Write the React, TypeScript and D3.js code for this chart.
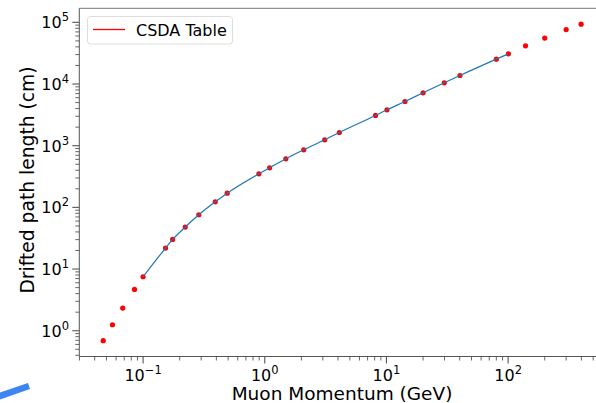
import React from "react";
import * as d3 from "d3";

// CSDA table values
const momentum = [
  0.047, 0.056, 0.068, 0.085, 0.1, 0.153, 0.175, 0.222, 0.287, 0.392, 0.491,
  0.895, 1.096, 1.49, 2.09, 3.11, 4.1, 8.13, 10.1, 14.2, 20.0, 29.9, 40.2, 80,
  100.5, 139, 200, 300, 398,
];
const pathLength = [
  0.69, 1.25, 2.33, 4.67, 7.5, 21.9, 30.2, 48, 75.9, 123, 170, 350, 438, 613,
  858, 1246, 1637, 3090, 3819, 5207, 7200, 10450, 13740, 25300, 30850, 41600,
  55500, 76400, 93500,
];
// fitted curve covers 0.1 .. 100 GeV
const curveRange = [0.1, 101];

const xMajor = [-1, 0, 1, 2];
const yMajor = [0, 1, 2, 3, 4, 5];

const W = 596;
const H = 403;
const FONT = "DejaVu Sans";

function logPad(vals: number[], frac: number): [number, number] {
  const lo = Math.log10(d3.min(vals)!);
  const hi = Math.log10(d3.max(vals)!);
  const m = (hi - lo) * frac;
  return [Math.pow(10, lo - m), Math.pow(10, hi + m)];
}

function minorTicks(domain: [number, number]) {
  const out: number[] = [];
  for (let e = -3; e <= 6; e++) {
    for (let k = 2; k <= 9; k++) {
      const v = k * Math.pow(10, e);
      if (v >= domain[0] && v <= domain[1]) out.push(v);
    }
  }
  return out;
}

function Pow({ e, x, y, anchor }: { e: number; x: number; y: number; anchor: string }) {
  const exp = e < 0 ? "\u2212" + Math.abs(e) : String(e);
  return (
    <text x={x} y={y} textAnchor={anchor} fontFamily={FONT} fontSize={16} fill="#000">
      10
      <tspan fontSize={11.5} dy={-7}>
        {exp}
      </tspan>
    </text>
  );
}

export default function App() {
  const left = 79.3;
  const right = 605;
  const top = 8.3;
  const bottom = 356.5;

  const xDom = logPad(momentum, 0.05);
  const yDom = logPad(pathLength, 0.05);
  const x = d3.scaleLog().domain(xDom).range([left, right]);
  const y = d3.scaleLog().domain(yDom).range([bottom, top]);

  const pts = momentum.map((p, i) => ({ p, l: pathLength[i] }));
  const curvePts = pts.filter((d) => d.p >= curveRange[0] && d.p <= curveRange[1]);

  const line = d3
    .line<{ p: number; l: number }>()
    .x((d) => x(d.p))
    .y((d) => y(d.l))
    .curve(d3.curveMonotoneX);

  const axisCol = "#555";

  return (
    <div style={{ position: "fixed", left: 0, top: 0 }}>
      <svg width={W} height={H} style={{ display: "block", background: "#fff" }}>
        {/* stray blue stroke at bottom-left */}
        <line x1={-3} y1={397} x2={29} y2={386} stroke="#3d85f0" strokeWidth={6.5} />

        {/* spines */}
        <line x1={left} y1={top} x2={W} y2={top} stroke="#777" strokeWidth={1} />
        <line x1={left} y1={top} x2={left} y2={bottom} stroke={axisCol} strokeWidth={1} />
        <line x1={left} y1={bottom} x2={W} y2={bottom} stroke={axisCol} strokeWidth={1} />

        {/* x ticks */}
        {minorTicks(xDom).map((v) => (
          <line key={"xm" + v} x1={x(v)} x2={x(v)} y1={bottom} y2={bottom + 4} stroke={axisCol} strokeWidth={0.9} />
        ))}
        {xMajor.map((e) => (
          <g key={"xM" + e}>
            <line x1={x(Math.pow(10, e))} x2={x(Math.pow(10, e))} y1={bottom} y2={bottom + 7} stroke={axisCol} strokeWidth={1.1} />
            <Pow e={e} x={x(Math.pow(10, e))} y={381} anchor="middle" />
          </g>
        ))}

        {/* y ticks */}
        {minorTicks(yDom).map((v) => (
          <line key={"ym" + v} x1={left - 4} x2={left} y1={y(v)} y2={y(v)} stroke={axisCol} strokeWidth={0.9} />
        ))}
        {yMajor.map((e) => (
          <g key={"yM" + e}>
            <line x1={left - 7} x2={left} y1={y(Math.pow(10, e))} y2={y(Math.pow(10, e))} stroke={axisCol} strokeWidth={1.1} />
            <Pow e={e} x={69} y={y(Math.pow(10, e)) + 6} anchor="end" />
          </g>
        ))}

        {/* data */}
        {pts.map((d, i) => (
          <circle key={i} cx={x(d.p)} cy={y(d.l)} r={2.6} fill="#ff0000" />
        ))}
        <path d={line(curvePts) || ""} fill="none" stroke="#1f77b4" strokeWidth={1.2} />

        {/* axis labels */}
        <text x={342} y={400} textAnchor="middle" fontFamily={FONT} fontSize={18.5} fill="#000">
          Muon Momentum (GeV)
        </text>
        <text
          transform="translate(34,180) rotate(-90)"
          textAnchor="middle"
          fontFamily={FONT}
          fontSize={18.7}
          fill="#000"
        >
          Drifted path length (cm)
        </text>

        {/* legend */}
        <rect x={87.5} y={16.5} width={145} height={27.5} rx={3} fill="#fff" fillOpacity={0.8} stroke="#ddd" />
        <line x1={93} x2={125} y1={29.5} y2={29.5} stroke="#ff0000" strokeWidth={1.3} />
        <text x={136} y={35.5} fontFamily={FONT} fontSize={16} fill="#000">
          CSDA Table
        </text>
      </svg>
    </div>
  );
}
